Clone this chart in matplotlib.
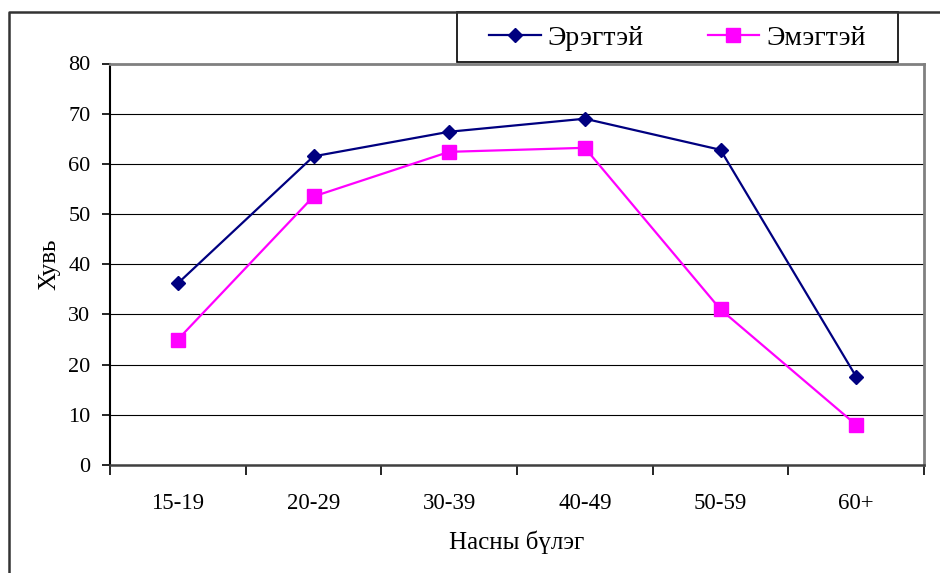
import matplotlib
matplotlib.use('Agg')
import matplotlib.pyplot as plt
from matplotlib.lines import Line2D
from matplotlib.patches import Rectangle

# data
groups = ['15-19', '20-29', '30-39', '40-49', '50-59', '60+']
men = [36.2, 61.5, 66.4, 69.0, 62.8, 17.6]
women = [25.0, 53.5, 62.4, 63.2, 31.0, 8.0]
yticks = [0, 10, 20, 30, 40, 50, 60, 70, 80]

plt.rcParams['font.family'] = ['Liberation Serif', 'DejaVu Serif']

fig = plt.figure(figsize=(9.4, 5.73), dpi=100)
ax = fig.add_axes([110/940, 1 - 465/573, (924 - 110)/940, (465 - 63.5)/573])

x = range(len(groups))
ax.plot(x, men, color='#000080', lw=1.6, marker='D', ms=7.6,
        label='Эрэгтэй', clip_on=False, zorder=3)
ax.plot(x, women, color='#FF00FF', lw=1.6, marker='s', ms=10.5,
        label='Эмэгтэй', clip_on=False, zorder=3)

ax.set_xlim(-0.5, len(groups) - 0.5)
ax.set_ylim(0, 80)
ax.set_yticks(yticks)
ax.set_xticks(list(x))
ax.set_xticklabels(groups)
ax.set_xticks([i - 0.5 for i in range(len(groups) + 1)], minor=True)
ax.tick_params(axis='x', which='major', length=0, labelsize=16.5, pad=20)
ax.tick_params(axis='x', which='minor', length=7, width=1.2, direction='out')
ax.tick_params(axis='y', length=6, width=1.2, direction='out', labelsize=16, pad=8)

ax.grid(axis='y', color='black', lw=0.8)
ax.set_axisbelow(True)
for s in ['top', 'right']:
    ax.spines[s].set_color('#808080')
    ax.spines[s].set_linewidth(2)
ax.spines['left'].set_color('black')
ax.spines['left'].set_linewidth(1.5)
ax.spines['bottom'].set_color('#404040')
ax.spines['bottom'].set_linewidth(1.8)

ax.set_ylabel('Хувь', fontsize=18, labelpad=6)
ax.set_xlabel('Насны бүлэг', fontsize=18, labelpad=12)

# legend box
fig.add_artist(Rectangle((457/940, 1 - 62/573), (898 - 457)/940, 50/573,
                         transform=fig.transFigure, fill=False,
                         edgecolor='black', lw=1.2))
fig.legend(loc='center', ncol=2, bbox_to_anchor=(677.5/940, 1 - 38/573),
           frameon=False, fontsize=20, handlelength=1.85, handletextpad=0.25,
           columnspacing=2.3, borderpad=0, borderaxespad=0)

# outer chart frame (only top and left edges are in view)
fig.add_artist(Line2D([8.5/940, 8.5/940, 1], [0, 1 - 12/573, 1 - 12/573],
                      transform=fig.transFigure, color='#333333', lw=1.8))

fig.savefig('out.png', dpi=100)
